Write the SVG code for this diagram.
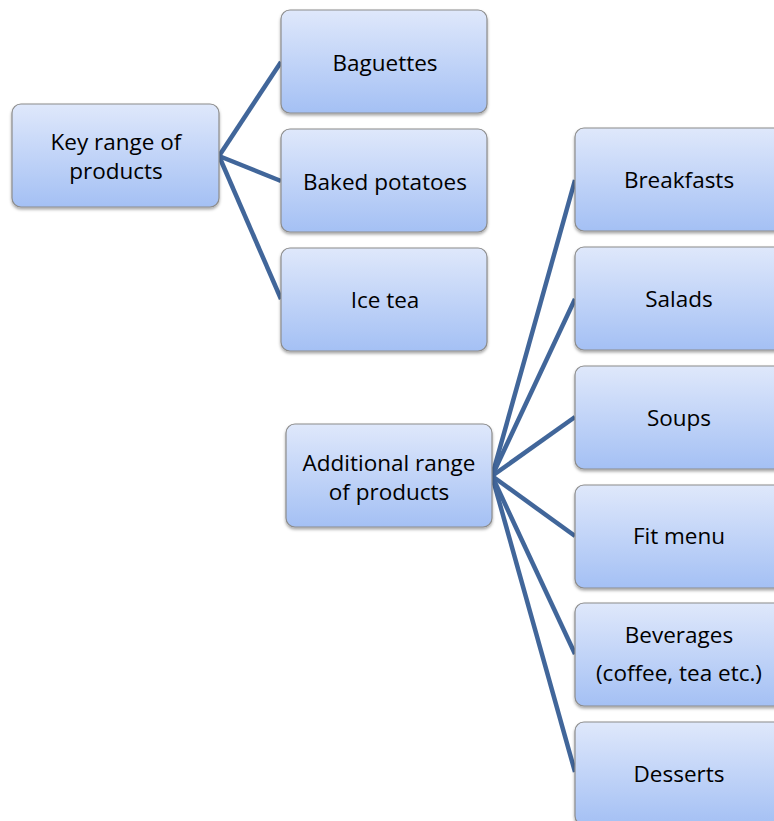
<svg xmlns="http://www.w3.org/2000/svg" width="774" height="821" viewBox="0 0 774 821">
  <defs>
    <linearGradient id="boxFill" x1="0" y1="0" x2="0" y2="1">
      <stop offset="0" stop-color="#DFE8FB"/>
      <stop offset="1" stop-color="#A4C0F4"/>
    </linearGradient>
    <filter id="shadow" x="-10%" y="-10%" width="120%" height="130%">
      <feDropShadow dx="0" dy="2" stdDeviation="1.5" flood-color="#000" flood-opacity="0.35"/>
    </filter>
  </defs>
  <style>
    .box { fill: url(#boxFill); stroke: #8C8C8C; stroke-width: 1.2; filter: url(#shadow); }
    .lbl { font-family: "Open Sans", "Noto Sans", sans-serif; font-size: 22.5px; fill: #000; text-anchor: middle; dominant-baseline: central; }
    .conn { stroke: #41669A; stroke-width: 4.5; fill: none; stroke-linecap: butt; }
  </style>
  <rect width="774" height="821" fill="#fff"/>

  <g id="connectors">
    <line class="conn" x1="219" y1="156" x2="281" y2="62"/>
    <line class="conn" x1="219" y1="156" x2="281" y2="181"/>
    <line class="conn" x1="219" y1="156" x2="281" y2="299"/>
    <line class="conn" x1="492" y1="476" x2="575" y2="180"/>
    <line class="conn" x1="492" y1="476" x2="575" y2="299"/>
    <line class="conn" x1="492" y1="476" x2="575" y2="417"/>
    <line class="conn" x1="492" y1="476" x2="575" y2="536"/>
    <line class="conn" x1="492" y1="476" x2="575" y2="654"/>
    <line class="conn" x1="492" y1="476" x2="575" y2="772"/>
  </g>

  <g id="key-range">
    <rect class="box" x="12" y="104" width="207" height="103" rx="9"/>
    <text class="lbl" x="116" y="141">Key range of</text>
    <text class="lbl" x="116" y="170">products</text>
  </g>
  <g id="baguettes">
    <rect class="box" x="281" y="10" width="206" height="103" rx="9"/>
    <text class="lbl" x="385" y="62">Baguettes</text>
  </g>
  <g id="baked-potatoes">
    <rect class="box" x="281" y="129" width="206" height="103" rx="9"/>
    <text class="lbl" x="385" y="181">Baked potatoes</text>
  </g>
  <g id="ice-tea">
    <rect class="box" x="281" y="248" width="206" height="103" rx="9"/>
    <text class="lbl" x="385" y="299">Ice tea</text>
  </g>
  <g id="additional-range">
    <rect class="box" x="286" y="424" width="206" height="103" rx="9"/>
    <text class="lbl" x="389" y="462">Additional range</text>
    <text class="lbl" x="389" y="491">of products</text>
  </g>
  <g id="breakfasts">
    <rect class="box" x="575" y="128" width="210" height="103" rx="9"/>
    <text class="lbl" x="679" y="179">Breakfasts</text>
  </g>
  <g id="salads">
    <rect class="box" x="575" y="247" width="210" height="103" rx="9"/>
    <text class="lbl" x="679" y="298">Salads</text>
  </g>
  <g id="soups">
    <rect class="box" x="575" y="366" width="210" height="103" rx="9"/>
    <text class="lbl" x="679" y="417">Soups</text>
  </g>
  <g id="fit-menu">
    <rect class="box" x="575" y="485" width="210" height="103" rx="9"/>
    <text class="lbl" x="679" y="535">Fit menu</text>
  </g>
  <g id="beverages">
    <rect class="box" x="575" y="603" width="210" height="103" rx="9"/>
    <text class="lbl" x="679" y="634">Beverages</text>
    <text class="lbl" x="679" y="672">(coffee, tea etc.)</text>
  </g>
  <g id="desserts">
    <rect class="box" x="575" y="722" width="210" height="103" rx="9"/>
    <text class="lbl" x="679" y="773">Desserts</text>
  </g>
</svg>
